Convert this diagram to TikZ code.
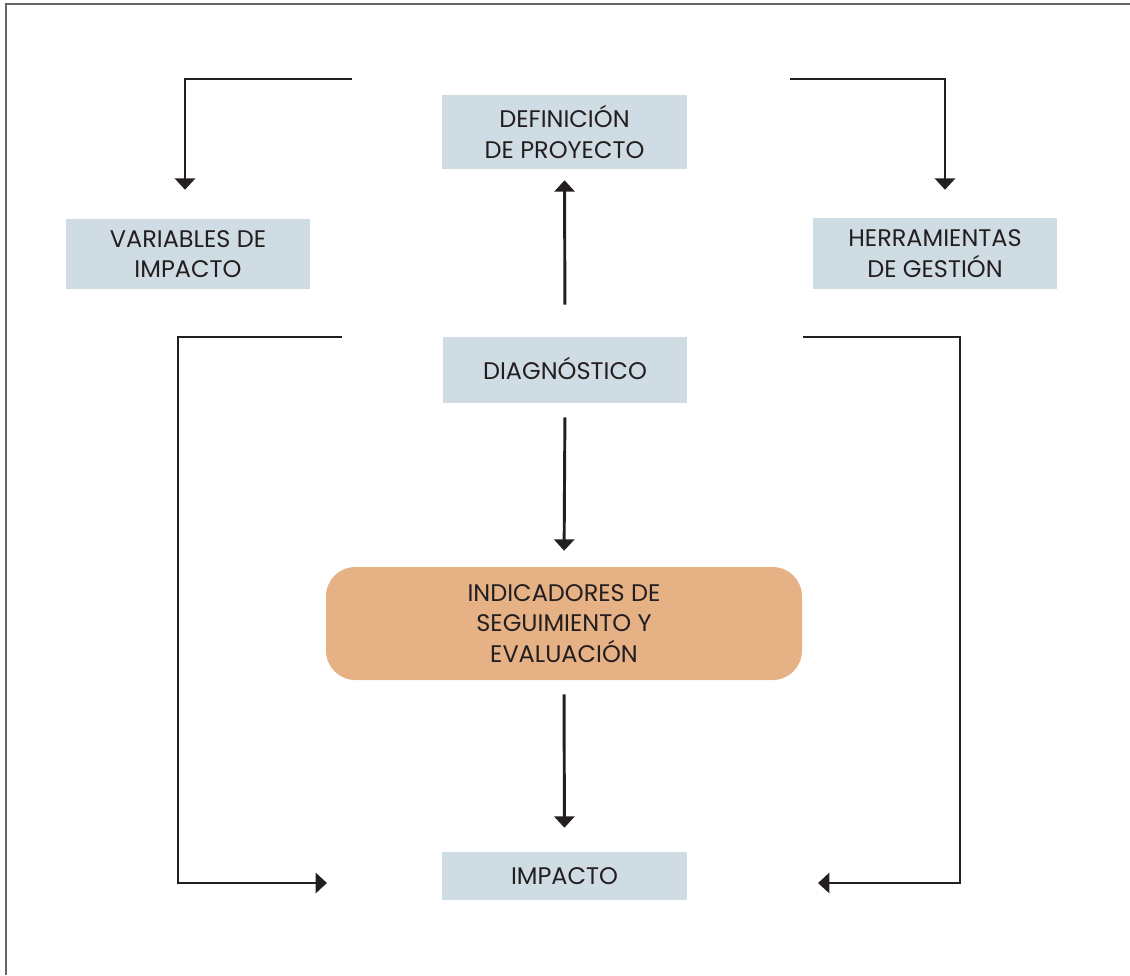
\documentclass[tikz,border=0pt]{standalone}
\usepackage{fontspec}
\setmainfont{Poppins}
\usetikzlibrary{arrows.meta,calc}
\definecolor{boxblue}{HTML}{D0DCE3}
\definecolor{boxorange}{HTML}{E5B185}
\definecolor{ink}{HTML}{231F20}
\definecolor{framegray}{HTML}{666666}
\tikzset{
  bluebox/.style={fill=boxblue, draw=none, align=center, inner sep=0pt, font=\fontsize{18}{23}\selectfont, text=ink},
  orangebox/.style={fill=boxorange, draw=none, rounded corners=22pt, align=center, inner sep=0pt, font=\fontsize{18}{23}\selectfont, text=ink},
  arr/.style={draw=ink, line width=2.2pt, -{Triangle[width=15pt,length=8.5pt]}},
}
\begin{document}
\begin{tikzpicture}[x=0.75pt,y=-0.75pt]
\useasboundingbox (0,0) rectangle (1130,975);
\draw[framegray, line width=1.5pt] (6,975) -- (6,4) -- (1130,4);

\node[bluebox, minimum width=245*0.75pt, minimum height=74*0.75pt] (def) at (564.5,132) {DEFINICIÓN\\DE PROYECTO};
\node[bluebox, minimum width=244*0.75pt, minimum height=70*0.75pt] (var) at (188,254) {VARIABLES DE\\IMPACTO};
\node[bluebox, minimum width=244*0.75pt, minimum height=71*0.75pt] (her) at (935,253.5) {HERRAMIENTAS\\DE GESTIÓN};
\node[bluebox, minimum width=244*0.75pt, minimum height=66*0.75pt, text depth=2pt] (dia) at (565,370) {DIAGNÓSTICO};
\node[orangebox, minimum width=476*0.75pt, minimum height=113*0.75pt] (ind) at (564,623.5) {INDICADORES DE\\SEGUIMIENTO Y\\EVALUACIÓN};
\node[bluebox, minimum width=245*0.75pt, minimum height=48*0.75pt] (imp) at (564.5,876) {IMPACTO};

\coordinate (tl) at (352,79);
\coordinate (tr) at (790,79);
\coordinate (ls) at (342,337);
\coordinate (le) at (327,883);
\coordinate (rs) at (803,337);
\coordinate (re) at (818,883);

\draw[arr, shorten >=21.75pt] (tl) -| ($(var.north)+(-3,0)$);
\draw[arr, shorten >=21pt] (tr) -| ($(her.north)+(10,0)$);
\draw[arr, shorten <=24pt, shorten >=8.25pt] (dia.north) -- (def.south);
\draw[arr, shorten <=10.5pt, shorten >=12pt] (dia.south) -- (ind.north);
\draw[arr, shorten <=10.5pt, shorten >=18pt] (ind.south) -- (imp.north);
\draw[arr] (ls) -- (178,337) -- (178,883) -- (le);
\draw[arr] (rs) -- (960,337) -- (960,883) -- (re);
\end{tikzpicture}
\end{document}
